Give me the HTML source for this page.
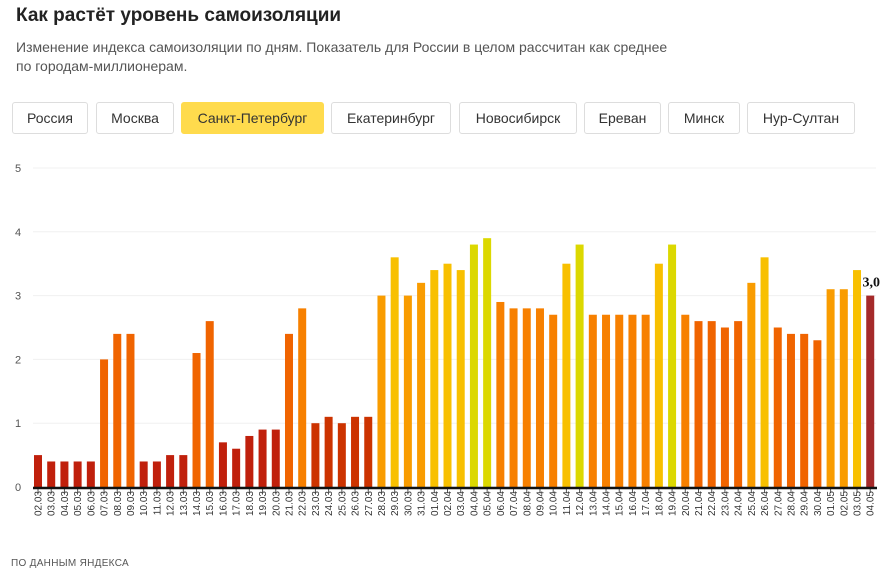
<!DOCTYPE html>
<html><head><meta charset="utf-8"><style>
body{margin:0;width:889px;height:587px;background:#fff;font-family:"Liberation Sans","Noto Sans CJK SC",sans-serif;position:relative;overflow:hidden}
.t{position:absolute;left:16px;top:5px;font-size:19px;font-weight:bold;color:#222}
.s{position:absolute;left:16px;top:38px;font-size:14px;line-height:19px;color:#555;width:700px}
.b{position:absolute;top:102px;height:32px;border:1px solid #ddd;border-radius:3px;box-sizing:border-box;font-size:14px;color:#333;display:flex;align-items:center;justify-content:center;background:#fff}
.b.a{background:#ffdb4d;border-color:#ffdb4d}
.f{position:absolute;left:11px;top:558px;font-size:10px;color:#555;letter-spacing:.3px}
</style></head><body>
<div class="t">Как растёт уровень самоизоляции</div>
<div class="s">Изменение индекса самоизоляции по дням. Показатель для России в целом рассчитан как среднее<br>по городам-миллионерам.</div>
<div class="b" style="left:12px;width:76px">Россия</div>
<div class="b" style="left:96px;width:78px">Москва</div>
<div class="b a" style="left:181px;width:143px">Санкт-Петербург</div>
<div class="b" style="left:331px;width:120px">Екатеринбург</div>
<div class="b" style="left:459px;width:118px">Новосибирск</div>
<div class="b" style="left:584px;width:77px">Ереван</div>
<div class="b" style="left:668px;width:72px">Минск</div>
<div class="b" style="left:747px;width:108px">Нур-Султан</div>
<svg id="c" width="889" height="587" style="position:absolute;left:0;top:0"></svg>
<div class="f">ПО ДАННЫМ ЯНДЕКСА</div>
<script>
const dates=["02.03","03.03","04.03","05.03","06.03","07.03","08.03","09.03","10.03","11.03","12.03","13.03","14.03","15.03","16.03","17.03","18.03","19.03","20.03","21.03","22.03","23.03","24.03","25.03","26.03","27.03","28.03","29.03","30.03","31.03","01.04","02.04","03.04","04.04","05.04","06.04","07.04","08.04","09.04","10.04","11.04","12.04","13.04","14.04","15.04","16.04","17.04","18.04","19.04","20.04","21.04","22.04","23.04","24.04","25.04","26.04","27.04","28.04","29.04","30.04","01.05","02.05","03.05","04.05"];
const values=[0.5,0.4,0.4,0.4,0.4,2.0,2.4,2.4,0.4,0.4,0.5,0.5,2.1,2.6,0.7,0.6,0.8,0.9,0.9,2.4,2.8,1.0,1.1,1.0,1.1,1.1,3.0,3.6,3.0,3.2,3.4,3.5,3.4,3.8,3.9,2.9,2.8,2.8,2.8,2.7,3.5,3.8,2.7,2.7,2.7,2.7,2.7,3.5,3.8,2.7,2.6,2.6,2.5,2.6,3.2,3.6,2.5,2.4,2.4,2.3,3.1,3.1,3.4,3.0];
const yTicks=[0,1,2,3,4,5];
const svg=document.getElementById('c'),NS='http://www.w3.org/2000/svg';
const y=v=>487-v*63.8, x=i=>38+i*13.21;
function mk(t,a,p){const e=document.createElementNS(NS,t);for(const k in a)e.setAttribute(k,a[k]);(p||svg).appendChild(e);return e;}
function col(v,last){if(last)return '#a52a2a';if(v<1)return '#c0200c';if(v<2)return '#cc3300';if(v<2.7)return '#f06400';if(v<3)return '#f78000';if(v<3.35)return '#f99c00';if(v<3.7)return '#f8c000';return '#dcd800';}
yTicks.forEach(t=>{
  const g=mk('line',{x1:33,x2:876,y1:y(t),y2:y(t),stroke:'#f0f0f0'});
  
  const l=mk('text',{x:18,y:y(t)+4,'font-size':11,fill:'#555','text-anchor':'middle'});l.textContent=t;
  
});
values.forEach((v,i)=>{
  const last=i===values.length-1;
  const r=mk('rect',{x:x(i)-4,y:y(v),width:8,height:y(0)-y(v),fill:col(v,last)});
  
  const tk=mk('line',{x1:x(i),x2:x(i),y1:488,y2:493,stroke:'#555'});
  
  const tx=mk('text',{x:0,y:0,'font-size':10,fill:'#333','text-anchor':'end',transform:'translate('+(x(i)+3.5)+',491) rotate(-90)'});
  tx.textContent=dates[i];
});
const ax=mk('line',{x1:33,x2:877,y1:488,y2:488,stroke:'#111','stroke-width':2.5});

const li=values.length-1;
const vl=mk('text',{x:x(li)+1,y:y(values[li])-9,'font-size':14,'font-weight':'bold','font-family':'Liberation Serif,serif',fill:'#111','text-anchor':'middle'});
vl.textContent=values[li].toFixed(1).replace('.',',');

</script>
</body></html>
